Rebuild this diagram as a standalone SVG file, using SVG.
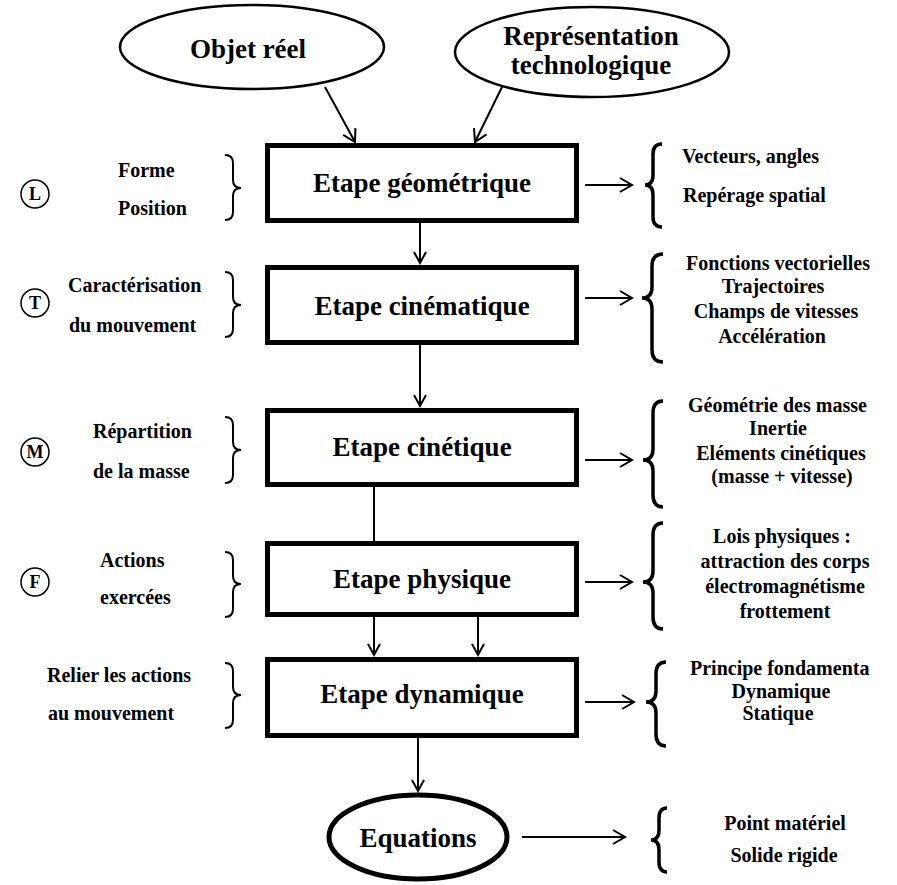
<svg xmlns="http://www.w3.org/2000/svg" width="897" height="885" viewBox="0 0 897 885">
<style>
  text { font-family: "Liberation Serif", "Times New Roman", serif; font-weight: bold; fill: #000; }
  .big { font-size: 27px; text-anchor: middle; }
  .sm { font-size: 20px; }
  .mid { text-anchor: middle; }
  .box { fill: #fff; stroke: #000; stroke-width: 5; }
  .ell { fill: #fff; stroke: #000; stroke-width: 2.5; }
  .circ { fill: #fff; stroke: #000; stroke-width: 1.5; }
  .circ-t { font-size: 18px; text-anchor: middle; }
  .con { stroke: #000; stroke-width: 2; fill: none; }
  .br { stroke: #000; stroke-width: 2; fill: none; }
  .brR { stroke: #000; stroke-width: 3.5; fill: none; }
</style>
<defs>
  <marker id="ah" markerUnits="userSpaceOnUse" markerWidth="20" markerHeight="20" viewBox="-15 -10 20 20" refX="0" refY="0" orient="auto">
    <path d="M -12,-7 L 0,0 L -12,7" stroke="#000" stroke-width="2" fill="none"/>
  </marker>
  <marker id="ahs" markerUnits="userSpaceOnUse" markerWidth="20" markerHeight="20" viewBox="-15 -10 20 20" refX="0" refY="0" orient="auto">
    <path d="M -11,-6 L 0,0 L -11,6" stroke="#000" stroke-width="2" fill="none"/>
  </marker>
  <clipPath id="rclip"><rect x="0" y="0" width="877" height="885"/></clipPath>
</defs>

<g id="connectors">
  <line class="con" x1="325" y1="87" x2="355" y2="142" marker-end="url(#ah)"/>
  <line class="con" x1="503" y1="85" x2="475" y2="142" marker-end="url(#ah)"/>
  <line class="con" x1="420" y1="223" x2="420" y2="263" marker-end="url(#ahs)"/>
  <line class="con" x1="420" y1="345" x2="420" y2="406" marker-end="url(#ahs)"/>
  <line class="con" x1="374" y1="487" x2="374" y2="541"/>
  <line class="con" x1="374" y1="617" x2="374" y2="655" marker-end="url(#ahs)"/>
  <line class="con" x1="478" y1="617" x2="478" y2="655" marker-end="url(#ahs)"/>
  <line class="con" x1="418" y1="738" x2="418" y2="791" marker-end="url(#ahs)"/>
  <line class="con" x1="585" y1="185" x2="632" y2="185" marker-end="url(#ah)"/>
  <line class="con" x1="585" y1="298" x2="632" y2="298" marker-end="url(#ah)"/>
  <line class="con" x1="585" y1="460" x2="632" y2="460" marker-end="url(#ah)"/>
  <line class="con" x1="585" y1="582" x2="632" y2="582" marker-end="url(#ah)"/>
  <line class="con" x1="585" y1="702" x2="634" y2="702" marker-end="url(#ah)"/>
  <line class="con" x1="522" y1="837" x2="625" y2="837" marker-end="url(#ah)"/>
</g>

<g id="objet-reel">
  <ellipse class="ell" cx="252" cy="47" rx="132" ry="42"/>
  <text class="big" x="248" y="58">Objet réel</text>
</g>
<g id="representation">
  <ellipse class="ell" cx="592" cy="52" rx="137" ry="45"/>
  <text class="big" x="591" y="45">Représentation</text>
  <text class="big" x="591" y="74">technologique</text>
</g>

<g id="etape-geometrique">
  <rect class="box" x="267.5" y="145.5" width="309" height="75"/>
  <text class="big" x="422" y="192">Etape géométrique</text>
</g>
<g id="etape-cinematique">
  <rect class="box" x="267.5" y="267.5" width="309" height="75"/>
  <text class="big" x="422" y="315">Etape cinématique</text>
</g>
<g id="etape-cinetique">
  <rect class="box" x="267.5" y="410.5" width="309" height="74"/>
  <text class="big" x="422" y="456">Etape cinétique</text>
</g>
<g id="etape-physique">
  <rect class="box" x="267.5" y="543.5" width="309" height="71"/>
  <text class="big" x="422" y="588">Etape physique</text>
</g>
<g id="etape-dynamique">
  <rect class="box" x="267.5" y="659.5" width="309" height="76"/>
  <text class="big" x="422" y="703">Etape dynamique</text>
</g>
<g id="equations">
  <ellipse cx="418" cy="837" rx="89" ry="42" fill="#fff" stroke="#000" stroke-width="5"/>
  <text class="big" x="418" y="847">Equations</text>
</g>

<g id="label-L">
  <circle class="circ" cx="35" cy="194" r="14"/>
  <text class="circ-t" x="35" y="200">L</text>
  <text class="sm" x="118" y="177">Forme</text>
  <text class="sm" x="118" y="215">Position</text>
  <path class="br" d="M225,155 Q233,155 233,163 L233,180 Q233,188 241,188 Q233,188 233,196 L233,212 Q233,220 225,220"/>
</g>
<g id="label-T">
  <circle class="circ" cx="35" cy="303" r="14"/>
  <text class="circ-t" x="35" y="309">T</text>
  <text class="sm" x="68" y="292">Caractérisation</text>
  <text class="sm" x="69" y="332">du mouvement</text>
  <path class="br" d="M225,272 Q233,272 233,280 L233,297 Q233,305 241,305 Q233,305 233,313 L233,329 Q233,337 225,337"/>
</g>
<g id="label-M">
  <circle class="circ" cx="35" cy="452" r="14"/>
  <text class="circ-t" x="35" y="458">M</text>
  <text class="sm" x="93" y="438">Répartition</text>
  <text class="sm" x="93" y="478">de la masse</text>
  <path class="br" d="M225,417 Q233,417 233,425 L233,442 Q233,450 241,450 Q233,450 233,458 L233,475 Q233,483 225,483"/>
</g>
<g id="label-F">
  <circle class="circ" cx="35" cy="582" r="14"/>
  <text class="circ-t" x="35" y="588">F</text>
  <text class="sm" x="100" y="567">Actions</text>
  <text class="sm" x="100" y="604">exercées</text>
  <path class="br" d="M225,552 Q233,552 233,560 L233,576 Q233,584 241,584 Q233,584 233,592 L233,609 Q233,617 225,617"/>
</g>
<g id="label-dyn">
  <text class="sm" x="47" y="682">Relier les actions</text>
  <text class="sm" x="48" y="720">au mouvement</text>
  <path class="br" d="M225,663 Q233,663 233,671 L233,687 Q233,695 241,695 Q233,695 233,703 L233,720 Q233,728 225,728"/>
</g>

<g id="right-1">
  <path class="brR" d="M662,144 Q653,144 653,154 L653,175 Q653,185 645,185 Q653,185 653,195 L653,217 Q653,227 662,227"/>
  <text class="sm" x="682" y="163">Vecteurs, angles</text>
  <text class="sm" x="683" y="202">Repérage spatial</text>
</g>
<g id="right-2" clip-path="url(#rclip)">
  <path class="brR" d="M663,254 Q652,254 652,266 L652,287 Q652,298 642,298 Q652,298 652,309 L652,350 Q652,362 663,362"/>
  <text class="sm mid" x="778" y="270">Fonctions vectorielles</text>
  <text class="sm mid" x="773" y="293">Trajectoires</text>
  <text class="sm mid" x="776" y="318">Champs de vitesses</text>
  <text class="sm mid" x="772" y="343">Accélération</text>
</g>
<g id="right-3" clip-path="url(#rclip)">
  <path class="brR" d="M663,401 Q653,401 653,413 L653,449 Q653,460 643,460 Q653,460 653,471 L653,495 Q653,507 663,507"/>
  <text class="sm" x="688" y="412">Géométrie des masse</text>
  <text class="sm mid" x="778" y="435">Inertie</text>
  <text class="sm mid" x="781" y="460">Eléments cinétiques</text>
  <text class="sm mid" x="782" y="483">(masse + vitesse)</text>
</g>
<g id="right-4" clip-path="url(#rclip)">
  <path class="brR" d="M663,523 Q653,523 653,535 L653,571 Q653,582 643,582 Q653,582 653,593 L653,617 Q653,629 663,629"/>
  <text class="sm mid" x="782" y="543">Lois physiques :</text>
  <text class="sm mid" x="785" y="568">attraction des corps</text>
  <text class="sm mid" x="785" y="593">électromagnétisme</text>
  <text class="sm mid" x="785" y="618">frottement</text>
</g>
<g id="right-5" clip-path="url(#rclip)">
  <path class="brR" d="M666,662 Q656,662 656,674 L656,691 Q656,702 646,702 Q656,702 656,713 L656,734 Q656,746 666,746"/>
  <text class="sm" x="690" y="675">Principe fondamenta</text>
  <text class="sm mid" x="781" y="698">Dynamique</text>
  <text class="sm mid" x="778" y="720">Statique</text>
</g>
<g id="right-6">
  <path class="brR" d="M667,808 Q659,808 659,818 L659,830 Q659,840 651,840 Q659,840 659,850 L659,862 Q659,872 667,872"/>
  <text class="sm mid" x="785" y="830">Point matériel</text>
  <text class="sm mid" x="784" y="862">Solide rigide</text>
</g>
</svg>
